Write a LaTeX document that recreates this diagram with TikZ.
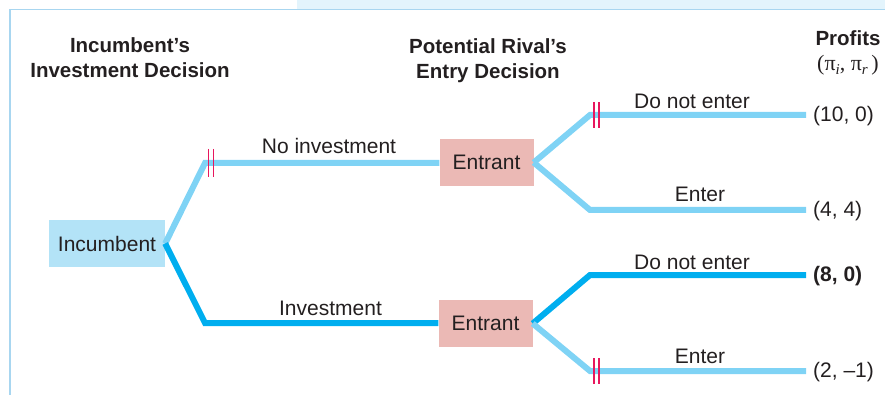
\documentclass[tikz,border=0pt]{standalone}
\usepackage{fontspec}
\setmainfont{Liberation Sans}
\newfontfamily\seriffont{Liberation Serif}
\definecolor{lightbr}{HTML}{7FD3F5}
\definecolor{darkbr}{HTML}{00AEEF}
\definecolor{incfill}{HTML}{B3E3F7}
\definecolor{entfill}{HTML}{EBB9B5}
\definecolor{tickred}{HTML}{E8175D}
\definecolor{framec}{HTML}{A8D6F0}
\definecolor{bandc}{HTML}{E3F4FC}
\definecolor{txt}{HTML}{231F20}
\newcommand{\subit}[1]{\raisebox{-4pt}{\fontsize{15}{15}\selectfont\textit{#1}}}
\begin{document}
\begin{tikzpicture}[x=1pt,y=-1pt,
  every node/.style={text=txt,font=\fontsize{21}{25}\selectfont,inner sep=0pt},
  incbox/.style={fill=incfill,minimum width=116pt,minimum height=47pt},
  entbox/.style={fill=entfill,minimum width=94pt,minimum height=47pt},
  lightpath/.style={draw=lightbr,line width=6pt},
  darkpath/.style={draw=darkbr,line width=6pt},
  cutmark/.style={draw=tickred,line width=1.5pt},
  header/.style={font=\bfseries\fontsize{20.5}{25}\selectfont,align=center},
  payoff/.style={anchor=west}]
\useasboundingbox (0,0) rectangle (885,395);
\fill[bandc] (297,0) rectangle (885,9);
\draw[framec,line width=1.2pt] (10,395) -- (10,9.5) -- (885,9.5);

% headers
\node[header] (h1) at (130,58) {Incumbent’s\\Investment Decision};
\node[header] (h2) at (488,61) {Potential Rival’s\\Entry Decision};
\node[header] (h3) at (848,53) {Profits\\{\mdseries\seriffont\fontsize{22}{25}\selectfont (π\subit{i}, π\subit{r}\,)}};

% decision nodes
\node[incbox] (inc) at (107,243.5) {Incumbent};
\node[entbox] (ent1) at (486.5,162.5) {Entrant};
\node[entbox] (ent2) at (485.5,323.5) {Entrant};

% bend points and ends
\coordinate (b1) at (205,163);
\coordinate (b2) at (205,323);
\coordinate (c1) at (590,115);
\coordinate (c2) at (590,210);
\coordinate (c3) at (590,275);
\coordinate (c4) at (590,371);
\coordinate (e1) at (806,115);
\coordinate (e2) at (806,210);
\coordinate (e3) at (806,275);
\coordinate (e4) at (806,371);

% branches
\draw[lightpath] (inc.east) -- (b1) -- (b1 -| ent1.west);
\draw[darkpath] (inc.east) -- (b2) -- (b2 -| ent2.west);
\draw[lightpath] (ent1.east) -- (c1) -- (e1);
\draw[lightpath] (ent1.east) -- (c2) -- (e2);
\draw[darkpath] (ent2.east) -- (c3) -- (e3);
\draw[lightpath] (ent2.east) -- (c4) -- (e4);

% cut marks
\foreach \dx in {3.5,8.5} {
  \draw[cutmark] ([xshift=\dx pt,yshift=14pt]b1) -- ([xshift=\dx pt,yshift=-14pt]b1);
}
\foreach \dx in {4,9} {
  \draw[cutmark] ([xshift=\dx pt,yshift=12.5pt]c1) -- ([xshift=\dx pt,yshift=-13pt]c1);
  \draw[cutmark] ([xshift=\dx pt,yshift=13pt]c4) -- ([xshift=\dx pt,yshift=-13pt]c4);
}

% branch labels
\node (l1) at (329,146) {No investment};
\node (l2) at (330.5,308) {Investment};
\node (l3) at (692,101.5) {Do not enter};
\node (l4) at (700,194) {Enter};
\node (l5) at (692,262) {Do not enter};
\node (l6) at (700,356) {Enter};

% payoffs
\node[payoff] (p1) at (813,116) {(10, 0)};
\node[payoff] (p2) at (813,211) {(4, 4)};
\node[payoff,font=\bfseries\fontsize{21}{25}\selectfont] (p3) at (813,276) {(8, 0)};
\node[payoff] (p4) at (813,372) {(2, –1)};
\end{tikzpicture}
\end{document}
